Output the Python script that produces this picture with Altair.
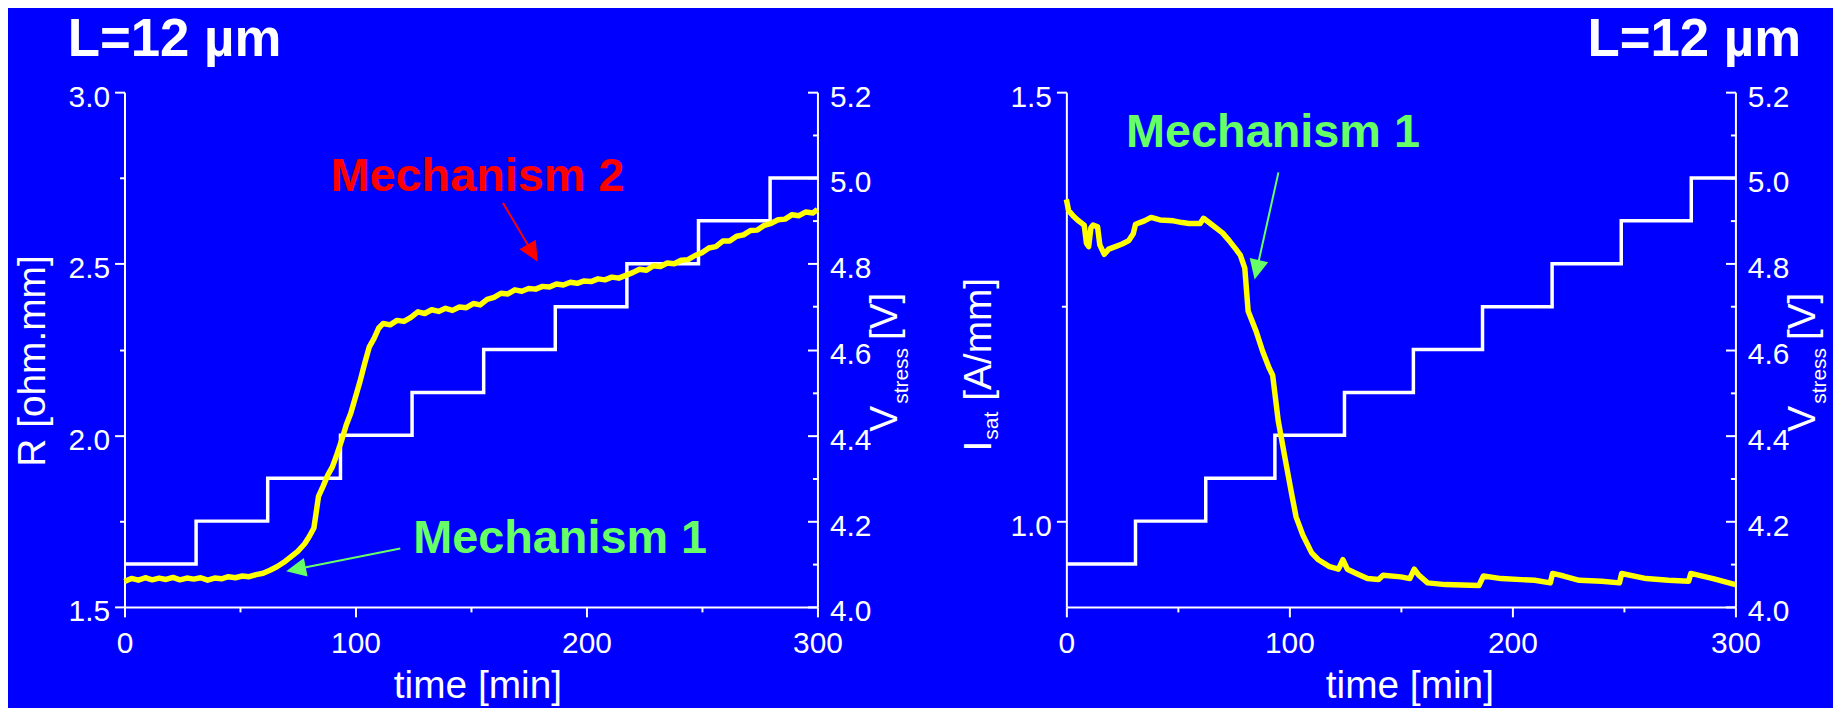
import math
import altair as alt
import pandas as pd

# ---------------- data ----------------
R_time = [0, 3, 6, 9, 12, 15, 18, 21, 24, 27,
          30, 33, 36, 39, 42, 45, 48, 51, 54, 57,
          60, 63, 66, 69, 72, 75, 78, 80, 82, 84,
          86, 88, 90, 92, 94, 96, 98, 100, 102, 104,
          106, 108, 110, 112, 115, 118, 121, 124, 127, 130,
          133, 136, 139, 142, 145, 148, 151, 154, 157, 160,
          163, 166, 169, 172, 175, 178, 181, 184, 187, 190,
          193, 196, 199, 202, 205, 208, 211, 214, 217, 220,
          223, 226, 229, 232, 235, 238, 241, 244, 247, 250,
          253, 256, 259, 262, 265, 268, 271, 274, 277, 280,
          283, 286, 289, 292, 295, 298, 300]
R_ohm_mm = [1.574, 1.583, 1.578, 1.585, 1.579, 1.584, 1.580, 1.586, 1.579, 1.584,
            1.581, 1.585, 1.578, 1.584, 1.582, 1.588, 1.585, 1.590, 1.588, 1.594,
            1.598, 1.607, 1.617, 1.630, 1.646, 1.662, 1.684, 1.705, 1.730, 1.822,
            1.852, 1.884, 1.908, 1.945, 1.985, 2.030, 2.065, 2.112, 2.158, 2.210,
            2.258, 2.282, 2.312, 2.326, 2.322, 2.335, 2.332, 2.344, 2.360, 2.355,
            2.366, 2.361, 2.370, 2.364, 2.374, 2.372, 2.384, 2.380, 2.396, 2.402,
            2.414, 2.412, 2.424, 2.420, 2.428, 2.426, 2.434, 2.432, 2.441, 2.438,
            2.446, 2.443, 2.450, 2.448, 2.456, 2.453, 2.461, 2.458, 2.466, 2.474,
            2.484, 2.481, 2.494, 2.492, 2.502, 2.500, 2.510, 2.512, 2.524, 2.532,
            2.546, 2.550, 2.566, 2.566, 2.580, 2.584, 2.597, 2.598, 2.612, 2.618,
            2.628, 2.630, 2.643, 2.640, 2.651, 2.648, 2.658]

I_time = [0, 1, 2, 3, 5, 8, 9, 10, 11, 12,
          14, 15, 17, 19, 22, 25, 28, 30, 31, 35,
          38, 42, 48, 52, 55, 60, 61.5, 65, 70, 73,
          76, 78, 80, 81.5, 85, 88, 91, 92.5, 95, 98,
          101, 103, 106, 110, 113, 118, 122, 124, 126, 130,
          135, 140, 142, 150, 154, 156, 158, 162, 170, 185,
          187, 195, 210, 217, 218, 223, 230, 240, 248, 249,
          260, 270, 279, 280, 290, 300]
I_sat = [1.375, 1.362, 1.359, 1.356, 1.351, 1.345, 1.324, 1.320, 1.342, 1.345,
         1.343, 1.322, 1.311, 1.317, 1.320, 1.323, 1.327, 1.335, 1.346, 1.350,
         1.354, 1.351, 1.350, 1.348, 1.347, 1.347, 1.353, 1.346, 1.336, 1.327,
         1.317, 1.310, 1.295, 1.245, 1.222, 1.198, 1.178, 1.170, 1.117, 1.074,
         1.032, 1.005, 0.984, 0.963, 0.955, 0.947, 0.944, 0.955, 0.944, 0.939,
         0.933, 0.932, 0.937, 0.935, 0.933, 0.944, 0.937, 0.928, 0.926, 0.925,
         0.936, 0.933, 0.931, 0.928, 0.939, 0.936, 0.931, 0.930, 0.928, 0.939,
         0.933, 0.931, 0.930, 0.939, 0.933, 0.926]

V_time_left = [0, 31, 62, 93.5, 124.5, 155.5, 186.5, 217.5, 248.5, 279.5, 300]
V_time_right = [0, 31, 62.5, 93.5, 124.7, 155.6, 186.6, 217.8, 248.8, 280.2, 300]
V_stress = [4.1, 4.2, 4.3, 4.4, 4.5, 4.6, 4.7, 4.8, 4.9, 5.0, 5.0]

x_ticks = [0, 50, 100, 150, 200, 250, 300]
R_ticks = [1.5, 1.75, 2.0, 2.25, 2.5, 2.75, 3.0]
I_ticks = [1.0, 1.25, 1.5]
V_ticks = [4.0, 4.1, 4.2, 4.3, 4.4, 4.5, 4.6, 4.7, 4.8, 4.9, 5.0, 5.1, 5.2]

# annotation arrows in data units: (t_start, v_start, t_tip, v_tip, colour)
arrows_left = [(163.8, 2.678, 178.9, 2.506, "#ff0000"),
               (119.4, 1.670, 70.0, 1.604, "#66ff66")]
arrows_right = [(95.1, 1.4065, 84.4, 1.2816, "#66ff66")]

# ---------------- layout / style ----------------
FONT = "Liberation Sans"
BG = "#0000ff"
YELLOW = "#ffff00"
GREEN = "#66ff66"
RED = "#ff0000"
W, H = 1825, 600
LX = [117, 813]      # left panel x pixel range
RX = [1063, 1735]    # right panel x pixel range
YR = [600, 83]       # y pixel range (bottom, top)
HEAD = "M0,-1L0.95,1L-0.95,1Z"
HEAD_SIZE = 400

R_dom = [1.5, 3.0]
I_dom = [0.9, 1.5]
V_dom = [4.0, 5.2]
T_dom = [0, 300]
MAJOR_HALF = "abs(datum.value * 2 - round(datum.value * 2)) < 0.001"


def to_px(t, v, xr, yd):
    x = xr[0] + (t - T_dom[0]) / (T_dom[1] - T_dom[0]) * (xr[1] - xr[0])
    y = YR[0] + (v - yd[0]) / (yd[1] - yd[0]) * (YR[1] - YR[0])
    return x, y


def from_px(x, y, xr, yd):
    t = T_dom[0] + (x - xr[0]) / (xr[1] - xr[0]) * (T_dom[1] - T_dom[0])
    v = yd[0] + (y - YR[0]) / (YR[1] - YR[0]) * (yd[1] - yd[0])
    return t, v


def arrow_frame(arrows, xr, yd):
    rows = []
    for t1, v1, t2, v2, c in arrows:
        x1, y1 = to_px(t1, v1, xr, yd)
        x2, y2 = to_px(t2, v2, xr, yd)
        dx, dy = x2 - x1, y2 - y1
        n = math.hypot(dx, dy)
        ux, uy = dx / n, dy / n
        cx, cy = x2 - ux * 10, y2 - uy * 10
        tc, vc = from_px(cx, cy, xr, yd)
        ang = math.degrees(math.atan2(ux, -uy)) % 360
        rows.append(dict(t1=t1, v1=v1, tc=tc, vc=vc, ang=ang, c=c))
    return pd.DataFrame(rows)


def x_axis():
    return alt.Axis(orient="bottom", values=x_ticks, format="d",
                    labelExpr="datum.value % 100 == 0 ? datum.label : ''",
                    tickSize={"condition": {"test": "datum.value % 100 == 0", "value": 10}, "value": 5},
                    labelPadding=12, title=None, grid=False,
                    labelFlush=False, labelOverlap=False)


def y_axis(ticks, offset, test):
    return alt.Axis(orient="left", offset=offset, values=ticks, format=".1f",
                    labelExpr="(" + test + ") ? datum.label : ''",
                    tickSize={"condition": {"test": test, "value": 10}, "value": 5},
                    labelPadding=5, labelOffset=5, title=None, grid=False,
                    labelFlush=False, labelOverlap=False)


def v_axis(offset):
    test = "round(datum.value * 10) % 2 == 0"
    return alt.Axis(orient="left", offset=offset, values=V_ticks, format=".1f",
                    labelExpr="(" + test + ") ? datum.label : ''",
                    tickSize={"condition": {"test": test, "value": 10}, "value": 5},
                    labelPadding=-22, labelAlign="left", labelOffset=5,
                    title=None, grid=False, labelFlush=False, labelOverlap=False)


def panel(xr, main_df, main_field, yd, y_ticks, y_off, v_times, v_off, arrows):
    xs = alt.Scale(domain=T_dom, range=xr, nice=False, zero=False)
    ys = alt.Scale(domain=yd, range=YR, nice=False, zero=False)
    vs = alt.Scale(domain=V_dom, range=YR, nice=False, zero=False)
    vdf = pd.DataFrame({"t": v_times, "V": V_stress})
    v_line = alt.Chart(vdf).mark_line(color="white", strokeWidth=3.5,
                                      interpolate="step-after").encode(
        x=alt.X("t:Q", scale=xs, axis=x_axis(), title=None),
        y=alt.Y("V:Q", scale=vs, axis=v_axis(v_off), title=None),
    )
    main = alt.Chart(main_df).mark_line(color=YELLOW, strokeWidth=5.5,
                                        strokeJoin="round").encode(
        x=alt.X("t:Q", scale=xs, axis=x_axis(), title=None),
        y=alt.Y(main_field + ":Q", scale=ys, axis=y_axis(y_ticks, y_off, MAJOR_HALF), title=None),
    )
    adf = arrow_frame(arrows, xr, yd)
    arule = alt.Chart(adf).mark_rule(strokeWidth=2).encode(
        x=alt.X("t1:Q", scale=xs, axis=x_axis(), title=None),
        y=alt.Y("v1:Q", scale=ys, axis=y_axis(y_ticks, y_off, MAJOR_HALF), title=None),
        x2="tc:Q", y2="vc:Q", color=alt.Color("c:N", scale=None))
    ahead = alt.Chart(adf).mark_point(shape=HEAD, filled=True, size=HEAD_SIZE,
                                      opacity=1, strokeWidth=0).encode(
        x=alt.X("tc:Q", scale=xs, axis=x_axis(), title=None),
        y=alt.Y("vc:Q", scale=ys, axis=y_axis(y_ticks, y_off, MAJOR_HALF), title=None),
        angle=alt.Angle("ang:Q", scale=None), color=alt.Color("c:N", scale=None))
    return alt.layer(v_line, alt.layer(main, arule, ahead)).resolve_scale(y="independent")


dfR = pd.DataFrame({"t": R_time, "R": R_ohm_mm})
dfI = pd.DataFrame({"t": I_time, "I": I_sat})

left = panel(LX, dfR, "R", R_dom, R_ticks, -LX[0], V_time_left, -LX[1], arrows_left)
right = panel(RX, dfI, "I", I_dom, I_ticks, -RX[0], V_time_right, -RX[1], arrows_right)

one = pd.DataFrame({"a": [0]})


def label(text, x, y, size, color="white", bold=False, align="left", angle=0):
    kw = dict(text=text, font=FONT, fontSize=size, color=color, align=align,
              baseline="alphabetic")
    if bold:
        kw["fontWeight"] = "bold"
    if angle:
        kw["angle"] = angle
    return alt.Chart(one).mark_text(**kw).encode(x=alt.value(x), y=alt.value(y))


texts = [
    label("L=12 \u00b5m", 60, 47, 53, bold=True),
    label("L=12 \u00b5m", 1801, 47, 53, bold=True, align="right"),
    label("Mechanism 2", 324, 182, 47, color=RED, bold=True),
    label("Mechanism 1", 407, 546, 47, color=GREEN, bold=True),
    label("Mechanism 1", 1123, 138, 47, color=GREEN, bold=True),
    label("R [ohm.mm]", 37, 353, 39, align="center", angle=270),
    label("time [min]", 472, 691, 39, align="center"),
    label("time [min]", 1408, 691, 39, align="center"),
    # V_stress [V] for left panel
    label("V", 893, 424, 39, angle=270),
    label("stress", 904, 396, 21, angle=270),
    label("[V]", 893, 332, 39, angle=270),
    # V_stress [V] for right panel
    label("V", 1815, 424, 39, angle=270),
    label("stress", 1826, 396, 21, angle=270),
    label("[V]", 1815, 332, 39, angle=270),
    # I_sat [A/mm]
    label("I", 987, 444, 39, angle=270),
    label("sat", 994, 432, 21, angle=270),
    label("[A/mm]", 987, 393, 39, angle=270),
]

chart = alt.layer(left, right, *texts).resolve_scale(
    x="independent", y="independent"
).properties(
    width=W, height=H,
    padding={"left": 0, "top": 0, "right": 8, "bottom": 100},
    autosize=alt.AutoSizeParams(type="none"),
    background=BG,
).configure_view(
    strokeWidth=0
).configure_axis(
    domainColor="white", tickColor="white", labelColor="white",
    labelFont=FONT, labelFontSize=30, domainWidth=2, tickWidth=2, grid=False,
)

chart.save("out.html", embed_options={"renderer": "svg", "actions": False})
